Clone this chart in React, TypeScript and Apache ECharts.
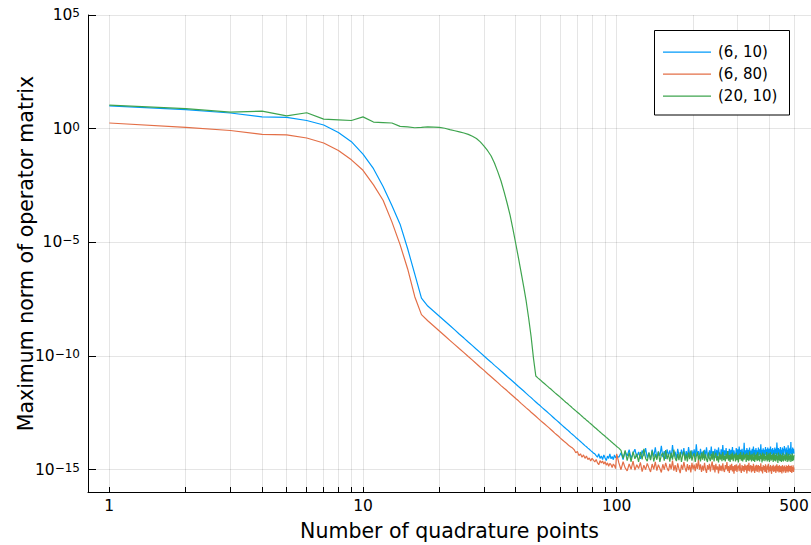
import React, { useEffect, useRef } from "react";
import * as echarts from "echarts";

// x domain: number of quadrature points
const headCounts = Array.from({ length: 100 }, (_, i) => i + 1);
const tailCounts = Array.from({ length: 200 }, (_, i) => 102 + 2 * i);
const quadraturePoints = [...headCounts, ...tailCounts];

const seriesNames = ["(6, 10)", "(6, 80)", "(20, 10)"];
const seriesColors = ["#009AFA", "#E36F47", "#3EA44E"];

const xTickValues = [1, 2, 3, 4, 5, 6, 7, 8, 9, 10, 20, 30, 40, 50, 60, 70, 80, 90, 100, 200, 300, 400, 500];
const xLabelValues = [1, 10, 100, 500];
const yTickExponents = [-15, -10, -5, 0, 5];

// log10 of the maximum norm
const blueHead = [
  1.0, 0.84, 0.69, 0.52, 0.5, 0.36, 0.16, -0.17, -0.57, -1.12,
  -1.76, -2.54, -3.38, -4.2, -5.28, -6.4, -7.45, -7.8, -8.03, -8.25,
  -8.46, -8.66, -8.85, -9.04, -9.21, -9.38, -9.54, -9.7, -9.85, -10.0,
  -10.14, -10.27, -10.41, -10.53, -10.66, -10.78, -10.9, -11.01, -11.12, -11.23,
  -11.34, -11.44, -11.54, -11.64, -11.74, -11.83, -11.93, -12.02, -12.11, -12.19,
  -12.28, -12.36, -12.44, -12.52, -12.6, -12.68, -12.76, -12.83, -12.9, -12.98,
  -13.05, -13.12, -13.19, -13.25, -13.32, -13.39, -13.45, -13.51, -13.58, -13.64,
  -13.7, -13.76, -13.82, -13.88, -13.94, -13.99, -14.05, -14.1, -14.16, -14.21,
  -14.27, -14.3, -14.38, -14.45, -14.3, -14.5, -14.4, -14.55, -14.35, -14.48,
  -14.6, -14.4, -14.5, -14.3, -14.52, -14.42, -14.56, -14.35, -14.48, -14.4,
];
const blueTail = [
  -14.45, -14.25, -14.55, -14.2, -14.4, -14.12, -14.5, -14.3, -14.1, -14.45,
  -14.22, -14.52, -14.15, -14.4, -14.05, -14.48, -14.25, -14.55, -14.12, -14.42,
  -14.02, -14.5, -14.2, -14.4, -13.95, -14.45, -14.18, -14.52, -14.1, -14.38,
  -14.15, -14.48, -13.92, -14.42, -14.2, -14.52, -14.08, -14.38, -14.45, -14.12,
  -14.4, -14.05, -14.5, -14.18, -14.44, -14.0, -14.35, -14.48, -14.15, -14.4,
  -14.1, -14.45, -13.88, -14.38, -14.18, -14.5, -14.08, -14.4, -14.2, -14.48,
  -14.12, -14.42, -14.02, -14.38, -14.5, -14.15, -14.4, -13.98, -14.45, -14.18,
  -14.38, -14.08, -14.48, -14.12, -14.42, -14.02, -14.35, -14.5, -14.1, -14.38,
  -13.92, -14.42, -14.15, -14.38, -14.05, -14.48, -14.18, -14.4, -14.08, -14.45,
  -14.12, -14.38, -14.0, -14.44, -14.15, -14.36, -14.48, -14.05, -14.38, -14.1,
  -14.42, -13.98, -14.38, -14.12, -14.45, -14.08, -14.35, -14.42, -13.82, -14.38,
  -14.15, -14.44, -14.05, -14.36, -14.12, -14.48, -14.02, -14.38, -14.16, -14.42,
  -14.08, -14.38, -13.98, -14.4, -14.12, -14.45, -14.05, -14.35, -14.15, -14.42,
  -14.02, -14.38, -14.1, -14.32, -13.88, -14.4, -14.12, -14.36, -14.06, -14.44,
  -14.12, -14.34, -14.0, -14.4, -14.1, -14.38, -14.02, -14.42, -14.14, -14.08,
  -14.38, -13.98, -14.32, -14.1, -14.4, -14.05, -14.36, -14.12, -14.44, -14.02,
  -14.32, -14.08, -14.38, -13.8, -14.14, -14.4, -14.05, -14.34, -14.1, -14.38,
  -14.0, -14.32, -14.12, -14.42, -14.02, -14.36, -14.08, -14.38, -13.96, -14.14,
  -14.1, -14.38, -14.02, -14.34, -14.12, -14.4, -13.92, -14.32, -14.08, -14.36,
  -14.04, -14.3, -13.78, -14.32, -14.1, -14.38, -14.02, -14.28, -14.08, -14.3,
];

const redHead = [
  0.25, 0.06, -0.08, -0.25, -0.27, -0.41, -0.63, -0.96, -1.37, -1.83,
  -2.47, -3.15, -4.1, -5.1, -6.17, -7.39, -8.18, -8.45, -8.68, -8.9,
  -9.11, -9.31, -9.5, -9.68, -9.85, -10.02, -10.18, -10.34, -10.49, -10.63,
  -10.78, -10.91, -11.04, -11.17, -11.3, -11.42, -11.53, -11.65, -11.76, -11.87,
  -11.97, -12.08, -12.18, -12.28, -12.37, -12.47, -12.56, -12.65, -12.74, -12.83,
  -12.91, -12.99, -13.07, -13.15, -13.23, -13.31, -13.39, -13.46, -13.53, -13.61,
  -13.68, -13.75, -13.81, -13.88, -13.95, -14.0, -14.05, -14.12, -14.25, -14.2,
  -14.38, -14.3, -14.45, -14.35, -14.5, -14.4, -14.55, -14.48, -14.62, -14.5,
  -14.58, -14.66, -14.55, -14.7, -14.78, -14.6, -14.7, -14.62, -14.75, -14.65,
  -14.8, -14.7, -14.85, -14.72, -14.78, -14.9, -14.75, -14.82, -14.95, -14.3,
];
const redTail = [
  -14.7, -15.0, -14.65, -14.92, -15.05, -14.75, -14.98, -14.62, -15.02, -14.78,
  -14.95, -14.68, -15.08, -14.8, -15.0, -14.72, -14.92, -15.1, -14.75, -14.98,
  -14.65, -15.04, -14.78, -14.95, -15.12, -14.76, -15.0, -14.7, -14.92, -15.06,
  -14.74, -14.98, -14.6, -15.04, -14.8, -15.1, -14.72, -14.96, -15.15, -14.78,
  -15.0, -14.66, -14.92, -15.08, -14.75, -15.02, -14.8, -15.12, -14.7, -14.98,
  -14.78, -15.06, -14.72, -14.96, -14.55, -15.0, -14.76, -15.1, -14.82, -15.04,
  -14.7, -14.98, -15.14, -14.8, -15.0, -14.74, -15.08, -14.82, -14.64, -15.02,
  -14.8, -15.12, -14.74, -15.0, -14.85, -15.16, -14.76, -15.04, -14.82, -15.06,
  -14.72, -15.0, -15.1, -14.8, -14.98, -14.66, -15.06, -14.84, -15.14, -14.78,
  -15.02, -14.74, -15.08, -14.84, -15.18, -14.8, -15.04, -14.76, -15.1, -14.86,
  -14.82, -15.06, -14.72, -15.0, -15.14, -14.8, -15.04, -14.84, -15.1, -14.76,
  -15.02, -14.82, -15.16, -14.78, -15.04, -14.7, -15.08, -14.86, -14.8, -15.12,
  -14.84, -15.06, -14.74, -15.0, -15.14, -14.82, -15.04, -14.78, -15.1, -14.86,
  -14.8, -15.12, -14.84, -15.04, -14.72, -15.08, -14.88, -15.16, -14.8, -15.02,
  -14.84, -15.1, -14.76, -15.04, -15.14, -14.82, -15.0, -14.74, -15.12, -14.86,
  -15.06, -14.8, -15.02, -15.18, -14.84, -15.04, -14.78, -15.1, -14.86, -15.06,
  -14.82, -15.14, -14.88, -14.76, -15.08, -14.9, -14.84, -15.12, -14.8, -15.04,
  -15.1, -14.84, -15.02, -15.16, -14.8, -15.06, -14.86, -15.12, -14.82, -15.04,
  -14.88, -15.14, -14.8, -15.08, -14.9, -14.84, -15.12, -14.78, -15.06, -15.0,
  -14.84, -15.1, -14.92, -14.82, -15.14, -14.88, -15.08, -14.8, -15.1, -14.9,
];

const greenHead = [
  1.04, 0.88, 0.73, 0.77, 0.56, 0.7, 0.42, 0.39, 0.36, 0.52,
  0.29, 0.27, 0.25, 0.1, 0.08, 0.04, 0.06, 0.08, 0.07, 0.06,
  0.02, -0.04, -0.09, -0.14, -0.19, -0.25, -0.33, -0.43, -0.58, -0.77,
  -0.97, -1.2, -1.52, -1.9, -2.3, -2.78, -3.28, -3.8, -4.42, -5.05,
  -5.68, -6.32, -6.95, -7.6, -8.35, -9.15, -10.1, -10.88, -10.97, -11.05,
  -11.14, -11.22, -11.3, -11.38, -11.45, -11.53, -11.61, -11.68, -11.75, -11.82,
  -11.89, -11.96, -12.03, -12.09, -12.16, -12.22, -12.29, -12.35, -12.41, -12.47,
  -12.53, -12.59, -12.65, -12.71, -12.76, -12.82, -12.87, -12.93, -12.98, -13.03,
  -13.09, -13.14, -13.19, -13.24, -13.29, -13.34, -13.39, -13.44, -13.48, -13.53,
  -13.58, -13.62, -13.67, -13.71, -13.76, -13.8, -13.85, -13.89, -13.93, -13.98,
];
const greenTail = [
  -14.05, -14.15, -14.5, -14.15, -14.6, -14.25, -14.65, -14.2, -14.52, -14.3,
  -14.66, -14.22, -14.55, -14.08, -14.5, -14.62, -14.25, -14.58, -14.16, -14.64,
  -14.32, -14.56, -14.2, -14.66, -14.36, -14.26, -14.6, -14.14, -14.54, -14.3,
  -14.64, -14.26, -14.56, -14.12, -14.5, -14.62, -14.3, -14.58, -14.22, -14.66,
  -14.36, -14.2, -14.6, -14.32, -14.64, -14.24, -14.54, -14.16, -14.6, -14.38,
  -14.28, -14.66, -14.4, -14.22, -14.58, -14.34, -14.64, -14.26, -14.56, -14.16,
  -14.6, -14.32, -14.54, -14.66, -14.24, -14.5, -14.62, -14.3, -14.56, -14.2,
  -14.64, -14.36, -14.26, -14.6, -14.4, -14.68, -14.24, -14.56, -14.32, -14.62,
  -14.22, -14.58, -14.38, -14.64, -14.3, -14.54, -14.18, -14.6, -14.36, -14.66,
  -14.3, -14.56, -14.24, -14.62, -14.4, -14.32, -14.64, -14.26, -14.58, -14.36,
  -14.68, -14.3, -14.54, -14.22, -14.6, -14.34, -14.64, -14.24, -14.56, -14.4,
  -14.32, -14.66, -14.26, -14.58, -14.36, -14.62, -14.2, -14.56, -14.34, -14.64,
  -14.3, -14.54, -14.6, -14.24, -14.66, -14.36, -14.56, -14.3, -14.62, -14.22,
  -14.58, -14.4, -14.64, -14.28, -14.54, -14.34, -14.68, -14.24, -14.6, -14.36,
  -14.3, -14.62, -14.4, -14.56, -14.22, -14.64, -14.34, -14.58, -14.28, -14.66,
  -14.38, -14.24, -14.6, -14.36, -14.56, -14.32, -14.66, -14.26, -14.54, -14.6,
  -14.34, -14.64, -14.28, -14.56, -14.4, -14.7, -14.24, -14.58, -14.34, -14.62,
  -14.3, -14.54, -14.66, -14.36, -14.6, -14.26, -14.64, -14.4, -14.56, -14.32,
  -14.62, -14.36, -14.56, -14.24, -14.66, -14.4, -14.58, -14.3, -14.64, -14.38,
  -14.56, -14.32, -14.66, -14.36, -14.6, -14.28, -14.62, -14.4, -14.58, -14.34,
];

const seriesLogValues = [
  [...blueHead, ...blueTail],
  [...redHead, ...redTail],
  [...greenHead, ...greenTail],
];

const FONT = "DejaVu Sans";

export default function App() {
  const ref = useRef<HTMLDivElement>(null);

  useEffect(() => {
    if (!ref.current) return;
    const chart = echarts.init(ref.current, null, { renderer: "svg" });

    const supExp = (v: number) => {
      const e = Math.round(v);
      return e < 0 ? "\u2212" + String(-e) : String(e);
    };

    chart.setOption({
      animation: false,
      backgroundColor: "#ffffff",
      textStyle: { fontFamily: FONT },
      grid: { left: 88, top: 15, width: 723, height: 477, outerBoundsMode: "none" },
      xAxis: {
        type: "value",
        min: -0.084,
        max: 2.766,
        name: "Number of quadrature points",
        nameLocation: "middle",
        nameGap: 28,
        nameMoveOverlap: false,
        nameTextStyle: { fontSize: 20.5, color: "#000", fontFamily: FONT },
        axisLine: { show: true, onZero: false, lineStyle: { color: "#000", width: 1 } },
        axisTick: {
          show: true,
          inside: true,
          length: 5,
          customValues: xTickValues.map((v) => Math.log10(v)),
          lineStyle: { color: "#000", width: 1 },
        },
        axisLabel: {
          customValues: xLabelValues.map((v) => Math.log10(v)),
          formatter: (v: number) => String(Math.round(Math.pow(10, v))),
          fontSize: 15.5,
          color: "#000",
          margin: 6,
          fontFamily: FONT,
        },
        splitLine: { show: true, lineStyle: { color: "rgba(0,0,0,0.1)", width: 1 } },
      },
      yAxis: {
        type: "value",
        min: -15.98,
        max: 5,
        name: "Maximum norm of operator matrix",
        nameLocation: "middle",
        nameRotate: 90,
        nameGap: 52,
        nameMoveOverlap: false,
        nameTextStyle: { fontSize: 20.5, color: "#000", fontFamily: FONT },
        axisLine: { show: true, onZero: false, lineStyle: { color: "#000", width: 1 } },
        axisTick: {
          show: true,
          inside: true,
          length: 8,
          customValues: yTickExponents,
          lineStyle: { color: "#000", width: 1 },
        },
        axisLabel: {
          customValues: yTickExponents,
          formatter: (v: number) => `{b|10}{s|${supExp(v)}}`,
          margin: 8,
          rich: {
            b: { fontSize: 15.5, color: "#000", fontFamily: FONT, lineHeight: 16, padding: [6, 0, 0, 0], verticalAlign: "bottom" },
            s: { fontSize: 12, color: "#000", fontFamily: FONT, lineHeight: 12, verticalAlign: "top" },
          },
        },
        splitLine: { show: true, lineStyle: { color: "rgba(0,0,0,0.1)", width: 1 } },
      },
      legend: {
        orient: "vertical",
        left: 663,
        top: 44.7,
        padding: 0,
        itemWidth: 48,
        itemHeight: 14,
        itemGap: 7,
        icon: "path://M0,0H48V1.3H0Z",
        data: seriesNames,
        textStyle: { fontSize: 15, color: "#000", fontFamily: FONT, lineHeight: 14, padding: [0, 0, 0, 2] },
      },
      graphic: [
        {
          type: "rect",
          z: 3,
          shape: { x: 654.5, y: 30.5, width: 135, height: 84.5 },
          style: { fill: "#ffffff", stroke: "#000000", lineWidth: 1 },
        },
      ],
      series: seriesNames.map((name, k) => ({
        name,
        type: "line",
        symbol: "none",
        showSymbol: false,
        color: seriesColors[k],
        lineStyle: { color: seriesColors[k], width: 1.2 },
        data: quadraturePoints.map((n, i) => [Math.log10(n), seriesLogValues[k][i]]),
      })),
    });

    return () => chart.dispose();
  }, []);

  return (
    <div
      ref={ref}
      style={{ position: "absolute", left: 0, top: 0, width: 811, height: 545 }}
    />
  );
}
